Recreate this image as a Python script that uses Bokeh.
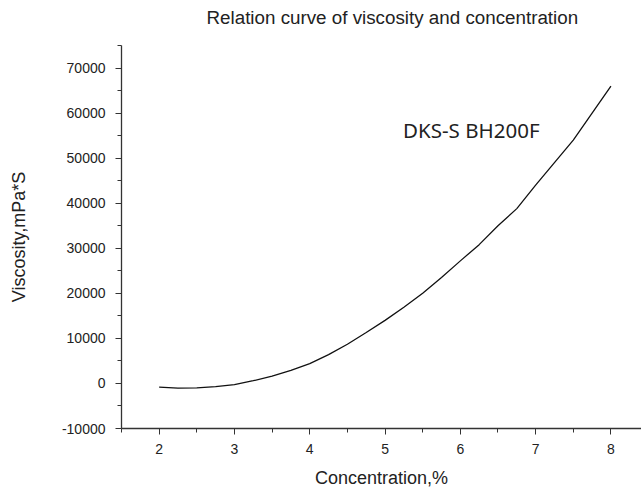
from bokeh.plotting import figure
from bokeh.models import FixedTicker, Label, NumeralTickFormatter, Title
from bokeh.embed import file_html
from bokeh.resources import INLINE

# data
concentration = [2.0, 2.25, 2.5, 2.75, 3.0, 3.25, 3.5, 3.75, 4.0, 4.25, 4.5, 4.75,
                 5.0, 5.25, 5.5, 5.75, 6.0, 6.25, 6.5, 6.75, 7.0, 7.25, 7.5, 7.75, 8.0]
viscosity = [-800, -1050, -1000, -700, -250, 600, 1600, 2900, 4400, 6400, 8700, 11300,
             14000, 16900, 20000, 23500, 27200, 30800, 35000, 38800, 44000, 49000,
             54000, 60000, 66000]

x_ticks = [2, 3, 4, 5, 6, 7, 8]
x_minor = [1.5, 2.5, 3.5, 4.5, 5.5, 6.5, 7.5, 8.5]
y_ticks = [-10000, 0, 10000, 20000, 30000, 40000, 50000, 60000, 70000]
y_minor = [-5000, 5000, 15000, 25000, 35000, 45000, 55000, 65000, 75000]

title_text = "Relation curve of viscosity and concentration"
x_label = "Concentration,%"
y_label = "Viscosity,mPa*S"
series_name = "DKS-S BH200F"

FONT = "Liberation Sans"
INK = "#222222"

p = figure(width=641, height=490, x_range=(1.5, 8.406), y_range=(-10000, 75000),
           output_backend="svg", toolbar_location=None, title_location=None,
           min_border_left=121, min_border_right=0, min_border_top=45,
           min_border_bottom=62)

p.outline_line_color = None
p.xgrid.grid_line_color = None
p.ygrid.grid_line_color = None

for ax in (p.xaxis[0], p.yaxis[0]):
    ax.axis_line_color = "#333333"
    ax.axis_line_width = 1.3
    ax.major_tick_line_color = "#333333"
    ax.minor_tick_line_color = "#333333"
    ax.major_tick_in = 0
    ax.major_tick_out = 6
    ax.minor_tick_in = 0
    ax.minor_tick_out = 4
    ax.major_label_text_font = FONT
    ax.major_label_text_font_size = "14px"
    ax.major_label_text_color = INK
    ax.axis_label_text_font = FONT
    ax.axis_label_text_font_size = "18px"
    ax.axis_label_text_font_style = "normal"
    ax.axis_label_text_color = INK

p.xaxis.ticker = FixedTicker(ticks=x_ticks, minor_ticks=x_minor)
p.yaxis.ticker = FixedTicker(ticks=y_ticks, minor_ticks=y_minor)
p.yaxis.formatter = NumeralTickFormatter(format="0")
p.xaxis.axis_label = x_label
p.yaxis.axis_label = y_label
p.xaxis.major_label_standoff = 9
p.yaxis.major_label_standoff = 10
p.xaxis.axis_label_standoff = 11
p.yaxis.axis_label_standoff = 30

p.line(concentration, viscosity, line_color="#111111", line_width=1.3)

# spacer between frame and title, then the title itself
p.add_layout(Title(text=" ", text_font_size="2px", standoff=14), "above")
p.add_layout(Title(text=title_text, align="left", offset=85, standoff=0,
                   text_font=FONT, text_font_size="18.8px",
                   text_font_style="normal", text_color=INK), "above")

p.add_layout(Label(x=5.24, y=56200, text=series_name, text_font="Noto Sans",
                   text_font_size="20.5px", text_color=INK,
                   text_baseline="middle"))

open("out.html", "w").write(file_html(p, INLINE))
